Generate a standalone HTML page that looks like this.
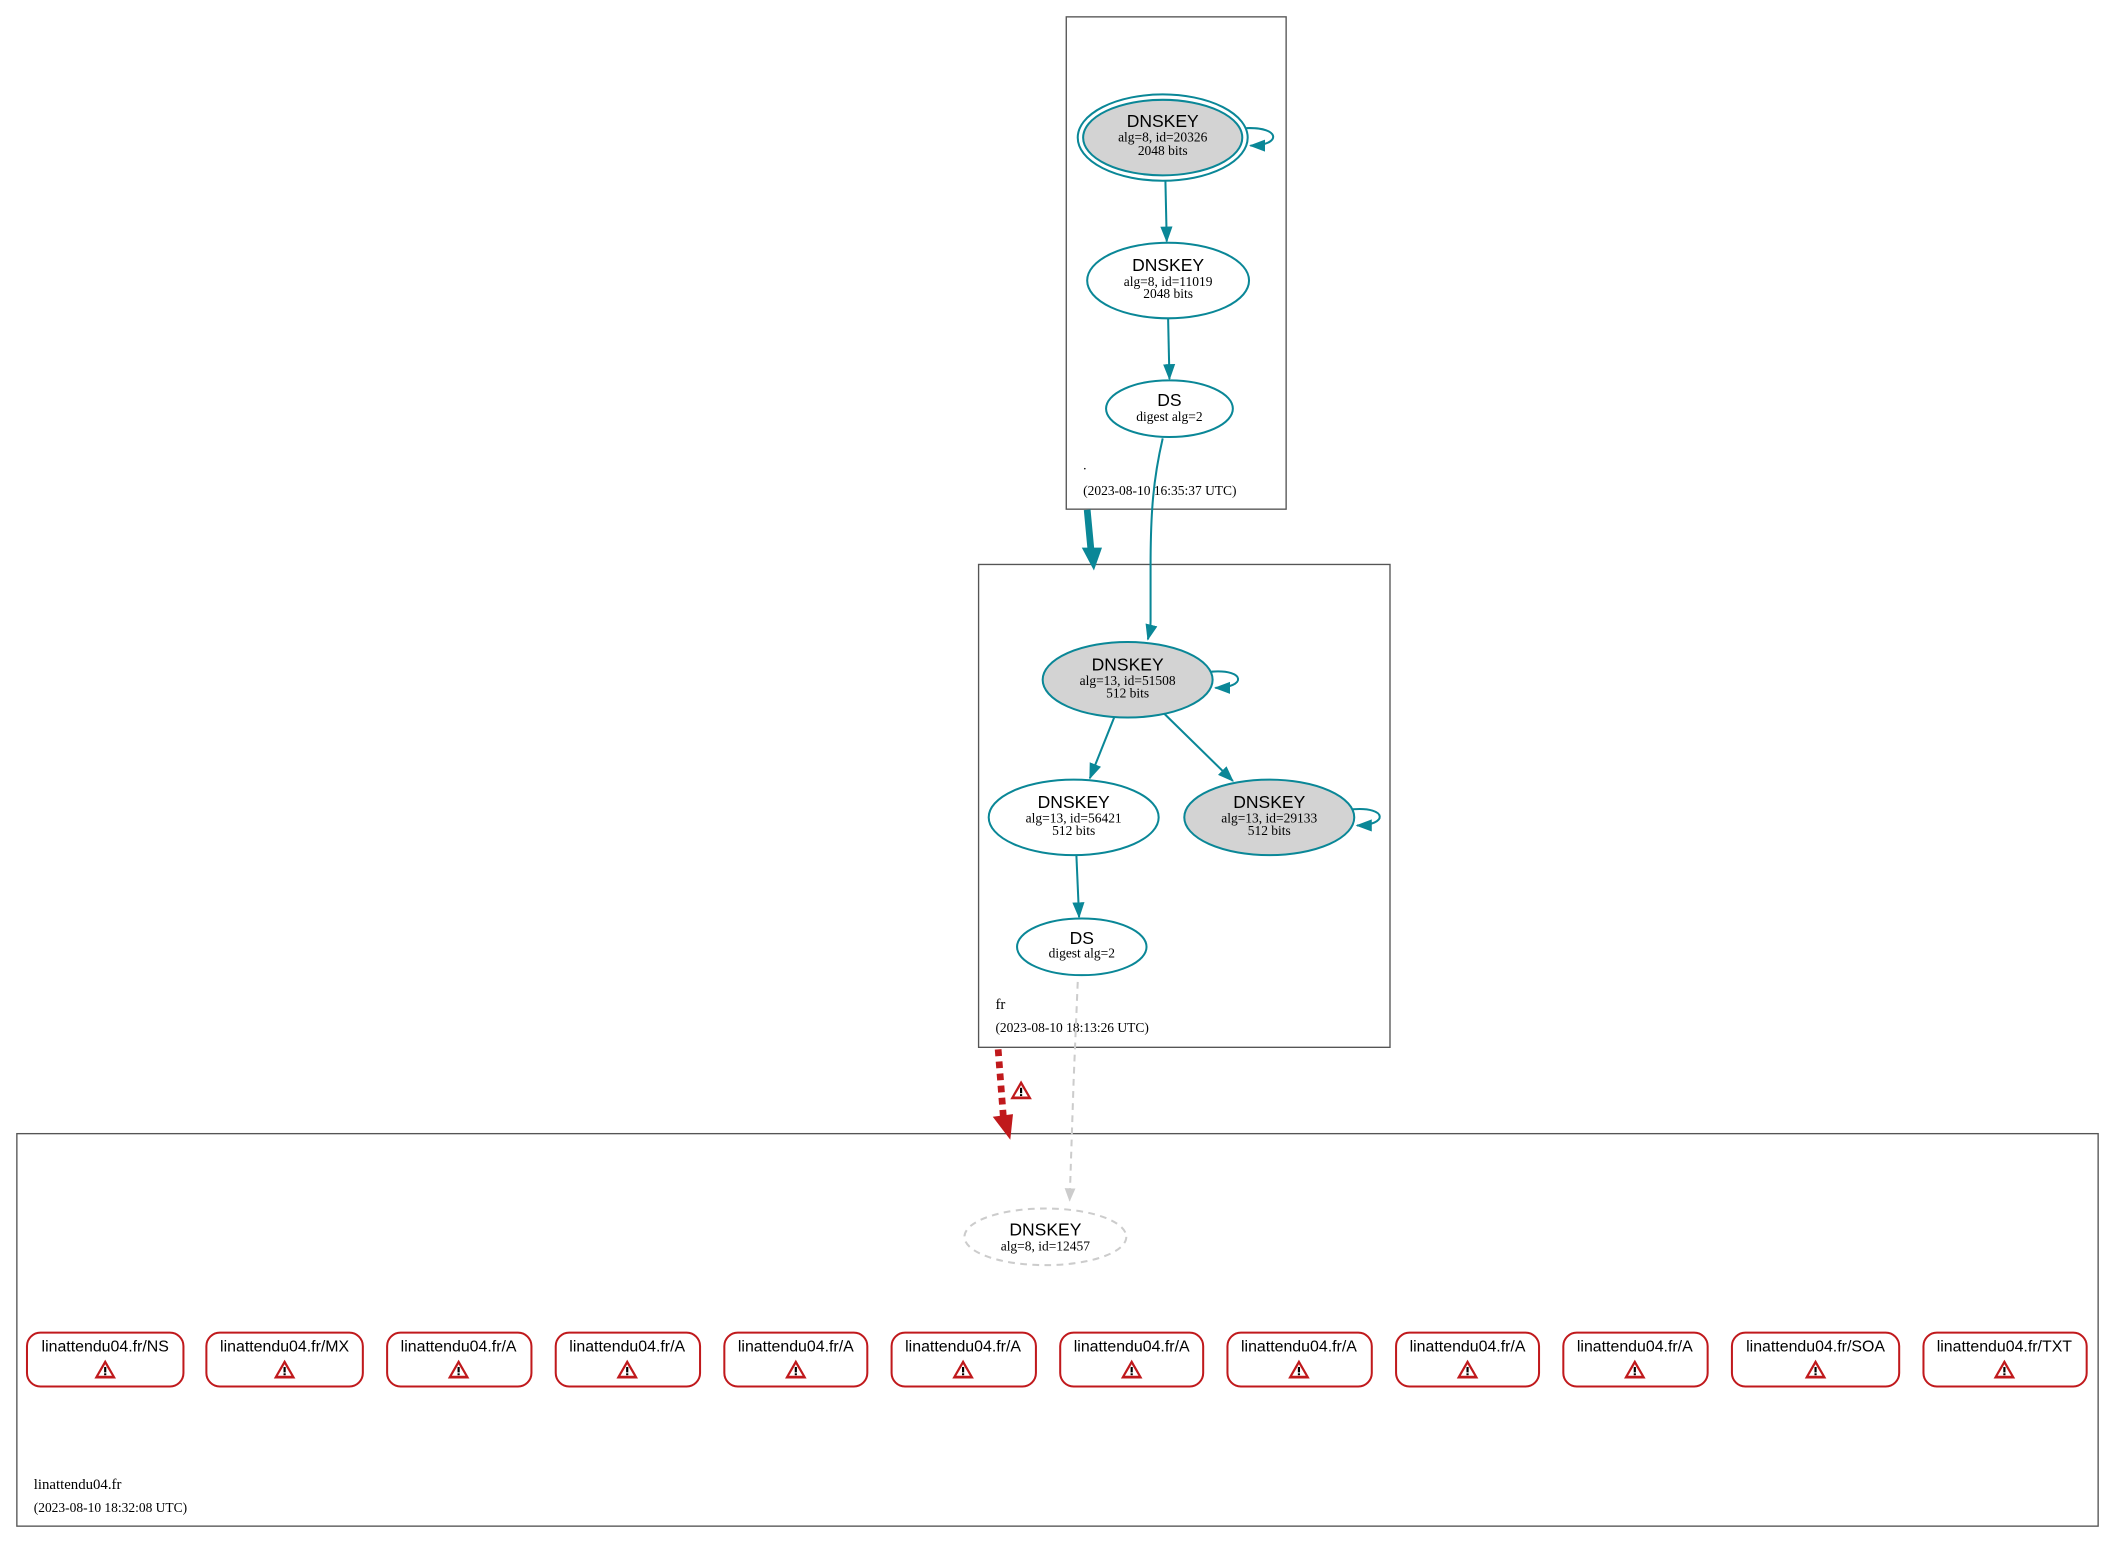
<!DOCTYPE html>
<html><head><meta charset="utf-8"><style>
html,body{margin:0;padding:0;background:#fff;}
svg{display:block;}
.s{font-family:"Liberation Sans",sans-serif;}
.r{font-family:"Liberation Serif",serif;}
</style></head><body>
<svg width="2115" height="1543" viewBox="0 0 1568 1144" preserveAspectRatio="none" xmlns="http://www.w3.org/2000/svg">
<defs>
<marker id="ah" markerWidth="12" markerHeight="12" refX="11" refY="6" orient="auto" markerUnits="userSpaceOnUse"><path d="M0,1.5 L12,6 L0,10.5 z" fill="#0a8797"/></marker>
<marker id="ahg" markerWidth="10" markerHeight="10" refX="9" refY="5" orient="auto" markerUnits="userSpaceOnUse"><path d="M0,1 L10,5 L0,9 z" fill="#ccc"/></marker>
<g id="warn"><path d="M0,-8 L8,6 L-8,6 z" fill="#c0191c"/><path d="M0,-4.5 L5,4 L-5,4 z" fill="#fff"/><rect x="-0.8" y="-2.5" width="1.6" height="4" fill="#000"/><rect x="-0.8" y="2.2" width="1.6" height="1.4" fill="#000"/></g>
</defs>
<rect width="1568" height="1144" fill="#fff"/>
<rect x="790.5" y="12.5" width="163" height="365" fill="none" stroke="#555" stroke-width="1"/>
<rect x="725.5" y="418.5" width="305" height="358" fill="none" stroke="#555" stroke-width="1"/>
<rect x="12.5" y="840.5" width="1543" height="291" fill="none" stroke="#555" stroke-width="1"/>
<ellipse cx="862" cy="102" rx="63" ry="32" fill="none" stroke="#0a8797" stroke-width="1.5"/>
<ellipse cx="862" cy="102" rx="59" ry="28" fill="#d3d3d3" stroke="#0a8797" stroke-width="1.5"/>
<path d="M924,95 C950,94 950,108 927,108" fill="none" stroke="#0a8797" stroke-width="1.5" marker-end="url(#ah)"/>
<text x="862" y="94" class="s" font-size="13" text-anchor="middle">DNSKEY</text>
<text x="862" y="105" class="r" font-size="10" text-anchor="middle">alg=8, id=20326</text>
<text x="862" y="115" class="r" font-size="10" text-anchor="middle">2048 bits</text>
<line x1="864" y1="134" x2="865" y2="179" stroke="#0a8797" stroke-width="1.5" marker-end="url(#ah)"/>
<ellipse cx="866" cy="208" rx="60" ry="28" fill="#fff" stroke="#0a8797" stroke-width="1.5"/>
<text x="866" y="201" class="s" font-size="13" text-anchor="middle">DNSKEY</text>
<text x="866" y="212" class="r" font-size="10" text-anchor="middle">alg=8, id=11019</text>
<text x="866" y="221" class="r" font-size="10" text-anchor="middle">2048 bits</text>
<line x1="866" y1="236" x2="867" y2="281" stroke="#0a8797" stroke-width="1.5" marker-end="url(#ah)"/>
<ellipse cx="867" cy="303" rx="47" ry="21" fill="#fff" stroke="#0a8797" stroke-width="1.5"/>
<text x="867" y="301" class="s" font-size="13" text-anchor="middle">DS</text>
<text x="867" y="312" class="r" font-size="10" text-anchor="middle">digest alg=2</text>
<text x="803" y="348" class="r" font-size="10">.</text>
<text x="803" y="367" class="r" font-size="10">(2023-08-10 16:35:37 UTC)</text>
<line x1="806" y1="378" x2="809" y2="410" stroke="#0a8797" stroke-width="5"/>
<path d="M802,406 L817,406 L811,423 z" fill="#0a8797"/>
<path d="M862,325 C855,355 853,380 853,420 L853,460 C853,468 852,470 851,474" fill="none" stroke="#0a8797" stroke-width="1.5" marker-end="url(#ah)"/>
<ellipse cx="836" cy="504" rx="63" ry="28" fill="#d3d3d3" stroke="#0a8797" stroke-width="1.5"/>
<path d="M898,498 C924,496 924,510 901,510" fill="none" stroke="#0a8797" stroke-width="1.5" marker-end="url(#ah)"/>
<text x="836" y="497" class="s" font-size="13" text-anchor="middle">DNSKEY</text>
<text x="836" y="508" class="r" font-size="10" text-anchor="middle">alg=13, id=51508</text>
<text x="836" y="517" class="r" font-size="10" text-anchor="middle">512 bits</text>
<line x1="826" y1="532" x2="808" y2="577" stroke="#0a8797" stroke-width="1.5" marker-end="url(#ah)"/>
<line x1="863" y1="529" x2="914" y2="579" stroke="#0a8797" stroke-width="1.5" marker-end="url(#ah)"/>
<ellipse cx="796" cy="606" rx="63" ry="28" fill="#fff" stroke="#0a8797" stroke-width="1.5"/>
<text x="796" y="599" class="s" font-size="13" text-anchor="middle">DNSKEY</text>
<text x="796" y="610" class="r" font-size="10" text-anchor="middle">alg=13, id=56421</text>
<text x="796" y="619" class="r" font-size="10" text-anchor="middle">512 bits</text>
<ellipse cx="941" cy="606" rx="63" ry="28" fill="#d3d3d3" stroke="#0a8797" stroke-width="1.5"/>
<path d="M1003,600 C1029,598 1029,612 1006,612" fill="none" stroke="#0a8797" stroke-width="1.5" marker-end="url(#ah)"/>
<text x="941" y="599" class="s" font-size="13" text-anchor="middle">DNSKEY</text>
<text x="941" y="610" class="r" font-size="10" text-anchor="middle">alg=13, id=29133</text>
<text x="941" y="619" class="r" font-size="10" text-anchor="middle">512 bits</text>
<line x1="798" y1="634" x2="800" y2="680" stroke="#0a8797" stroke-width="1.5" marker-end="url(#ah)"/>
<ellipse cx="802" cy="702" rx="48" ry="21" fill="#fff" stroke="#0a8797" stroke-width="1.5"/>
<text x="802" y="700" class="s" font-size="13" text-anchor="middle">DS</text>
<text x="802" y="710" class="r" font-size="10" text-anchor="middle">digest alg=2</text>
<text x="738" y="748" class="r" font-size="11">fr</text>
<text x="738" y="765" class="r" font-size="10">(2023-08-10 18:13:26 UTC)</text>
<path d="M740,778 L744,830" stroke="#c0191c" stroke-width="5" stroke-dasharray="5,4" fill="none"/>
<path d="M736,828 L751,826 L749,845 z" fill="#c0191c"/>
<use href="#warn" x="757" y="809"/>
<path d="M799,728 L796,800 L793,890" stroke="#ccc" stroke-width="1.5" stroke-dasharray="5,4" fill="none" marker-end="url(#ahg)"/>
<ellipse cx="775" cy="917" rx="60" ry="21" fill="#fff" stroke="#ccc" stroke-width="1.5" stroke-dasharray="5,4"/>
<text x="775" y="916" class="s" font-size="13" text-anchor="middle">DNSKEY</text>
<text x="775" y="927" class="r" font-size="10" text-anchor="middle">alg=8, id=12457</text>
<g stroke="#c0191c" stroke-width="1.5" fill="#fff">
<rect x="20" y="988" width="116" height="40" rx="10"/>
<rect x="153" y="988" width="116" height="40" rx="10"/>
<rect x="287" y="988" width="107" height="40" rx="10"/>
<rect x="412" y="988" width="107" height="40" rx="10"/>
<rect x="537" y="988" width="106" height="40" rx="10"/>
<rect x="661" y="988" width="107" height="40" rx="10"/>
<rect x="786" y="988" width="106" height="40" rx="10"/>
<rect x="910" y="988" width="107" height="40" rx="10"/>
<rect x="1035" y="988" width="106" height="40" rx="10"/>
<rect x="1159" y="988" width="107" height="40" rx="10"/>
<rect x="1284" y="988" width="124" height="40" rx="10"/>
<rect x="1426" y="988" width="121" height="40" rx="10"/>
</g>
<g class="s" font-size="11.8" text-anchor="middle">
<text x="78" y="1002">linattendu04.fr/NS</text>
<text x="211" y="1002">linattendu04.fr/MX</text>
<text x="340" y="1002">linattendu04.fr/A</text>
<text x="465" y="1002">linattendu04.fr/A</text>
<text x="590" y="1002">linattendu04.fr/A</text>
<text x="714" y="1002">linattendu04.fr/A</text>
<text x="839" y="1002">linattendu04.fr/A</text>
<text x="963" y="1002">linattendu04.fr/A</text>
<text x="1088" y="1002">linattendu04.fr/A</text>
<text x="1212" y="1002">linattendu04.fr/A</text>
<text x="1346" y="1002">linattendu04.fr/SOA</text>
<text x="1486" y="1002">linattendu04.fr/TXT</text>
</g>
<use href="#warn" x="78" y="1016"/>
<use href="#warn" x="211" y="1016"/>
<use href="#warn" x="340" y="1016"/>
<use href="#warn" x="465" y="1016"/>
<use href="#warn" x="590" y="1016"/>
<use href="#warn" x="714" y="1016"/>
<use href="#warn" x="839" y="1016"/>
<use href="#warn" x="963" y="1016"/>
<use href="#warn" x="1088" y="1016"/>
<use href="#warn" x="1212" y="1016"/>
<use href="#warn" x="1346" y="1016"/>
<use href="#warn" x="1486" y="1016"/>
<text x="25" y="1104" class="r" font-size="11">linattendu04.fr</text>
<text x="25" y="1121" class="r" font-size="10">(2023-08-10 18:32:08 UTC)</text>
</svg>
</body></html>
